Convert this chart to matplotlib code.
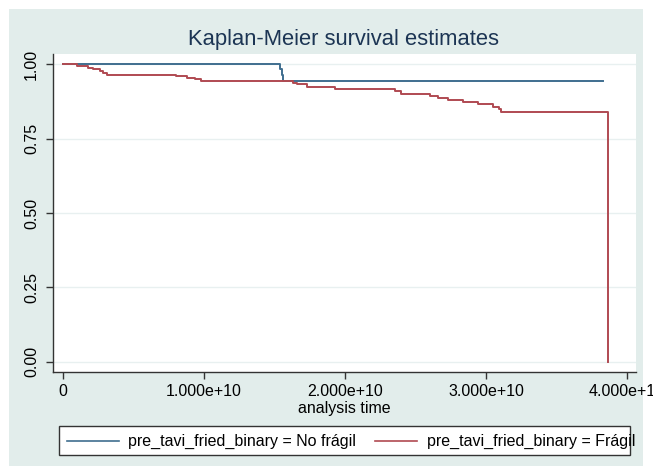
import matplotlib
matplotlib.use('Agg')
import matplotlib.pyplot as plt
from matplotlib.patches import Rectangle
from matplotlib.lines import Line2D

plt.rcParams['font.family'] = ['Liberation Sans', 'DejaVu Sans']

# ── Data ────────────────────────────────────────────────────────────────────
# No frágil: event times and survival after each event, last censor time
t_nofragil = [0, 1.540e10, 1.550e10, 1.563e10]
s_nofragil = [1.0, 0.985, 0.965, 0.943]
end_nofragil = 3.83e10

# Frágil
t_fragil = [0, 0.097e10, 0.180e10, 0.215e10, 0.260e10, 0.286e10, 0.310e10,
            0.800e10, 0.877e10, 0.936e10, 0.980e10, 1.633e10, 1.657e10,
            1.730e10, 1.930e10, 2.355e10, 2.400e10, 2.600e10, 2.660e10,
            2.730e10, 2.840e10, 2.945e10, 3.050e10, 3.090e10, 3.110e10,
            3.868e10]
s_fragil = [1.0, 0.994, 0.988, 0.983, 0.977, 0.971, 0.965,
            0.960, 0.955, 0.950, 0.944, 0.938, 0.932,
            0.924, 0.916, 0.909, 0.901, 0.894, 0.887,
            0.879, 0.872, 0.865, 0.857, 0.849, 0.840,
            0.0]

xticks = [0, 1e10, 2e10, 3e10, 4e10]
xticklabels = ['0', '1.000e+10', '2.000e+10', '3.000e+10', '4.000e+10']
yticks = [0, 0.25, 0.5, 0.75, 1.0]
yticklabels = ['0.00', '0.25', '0.50', '0.75', '1.00']
labels = ['pre_tavi_fried_binary = No frágil', 'pre_tavi_fried_binary = Frágil']

BLUE = '#3f6e8f'
RED = '#b04a52'
PANEL = '#e2edeb'
W, H = 653, 472

def fx(px):
    return px / W

def fy(py):
    return 1 - py / H

# ── Plot ────────────────────────────────────────────────────────────────────
fig = plt.figure(figsize=(6.53, 4.72), dpi=100)
fig.patch.set_facecolor('white')
fig.patches.append(Rectangle((fx(9), fy(466)), fx(643) - fx(9), fy(9) - fy(466),
                             transform=fig.transFigure, facecolor=PANEL,
                             edgecolor='none', zorder=-5))

ax = fig.add_axes([fx(53), fy(372), fx(636) - fx(53), fy(54) - fy(372)])
ax.set_zorder(2)
ax.set_facecolor('white')

ax.step(t_nofragil + [end_nofragil], s_nofragil + [s_nofragil[-1]],
        where='post', color=BLUE, lw=1.4, zorder=3)
ax.step(t_fragil, s_fragil, where='post', color=RED, lw=1.4, zorder=3)

ax.set_xlim(-0.071e10, 4.064e10)
ax.set_ylim(-0.034, 1.034)
ax.set_xticks(xticks)
ax.set_xticklabels(xticklabels, fontsize=11.5)
ax.set_yticks(yticks)
ax.set_yticklabels(yticklabels, fontsize=11.5, rotation=90, va='center')
ax.tick_params(axis='both', length=5, width=1, color='#333333', direction='out')
ax.tick_params(axis='x', pad=4)
ax.tick_params(axis='y', pad=5)
for s in ['top', 'right']:
    ax.spines[s].set_visible(False)
for s in ['left', 'bottom']:
    ax.spines[s].set_color('#333333')
    ax.spines[s].set_linewidth(1)
ax.grid(axis='y', color='#e8f0f0', lw=1)
ax.set_axisbelow(True)

ax.set_xlabel('analysis time', fontsize=11.5, labelpad=1)
fig.text(fx(344), fy(40), 'Kaplan-Meier survival estimates', ha='center',
         va='center', fontsize=15.8, color='#1c3554')

# legend drawn like Stata's box
fig.patches.append(Rectangle((fx(59), fy(455)), fx(630) - fx(59), fy(426) - fy(455),
                             transform=fig.transFigure, facecolor='white',
                             edgecolor='#333333', lw=1, zorder=1))
ly = fy(441)
fig.lines.append(Line2D([fx(67), fx(119)], [ly, ly], transform=fig.transFigure,
                        color=BLUE, lw=1.2, zorder=3))
fig.text(fx(128), ly, labels[0], ha='left', va='center', fontsize=11.5, zorder=3)
fig.lines.append(Line2D([fx(375), fx(417)], [ly, ly], transform=fig.transFigure,
                        color=RED, lw=1.2, zorder=3))
fig.text(fx(427), ly, labels[1], ha='left', va='center', fontsize=11.5, zorder=3)

plt.savefig('out.png', dpi=100)
plt.close()
